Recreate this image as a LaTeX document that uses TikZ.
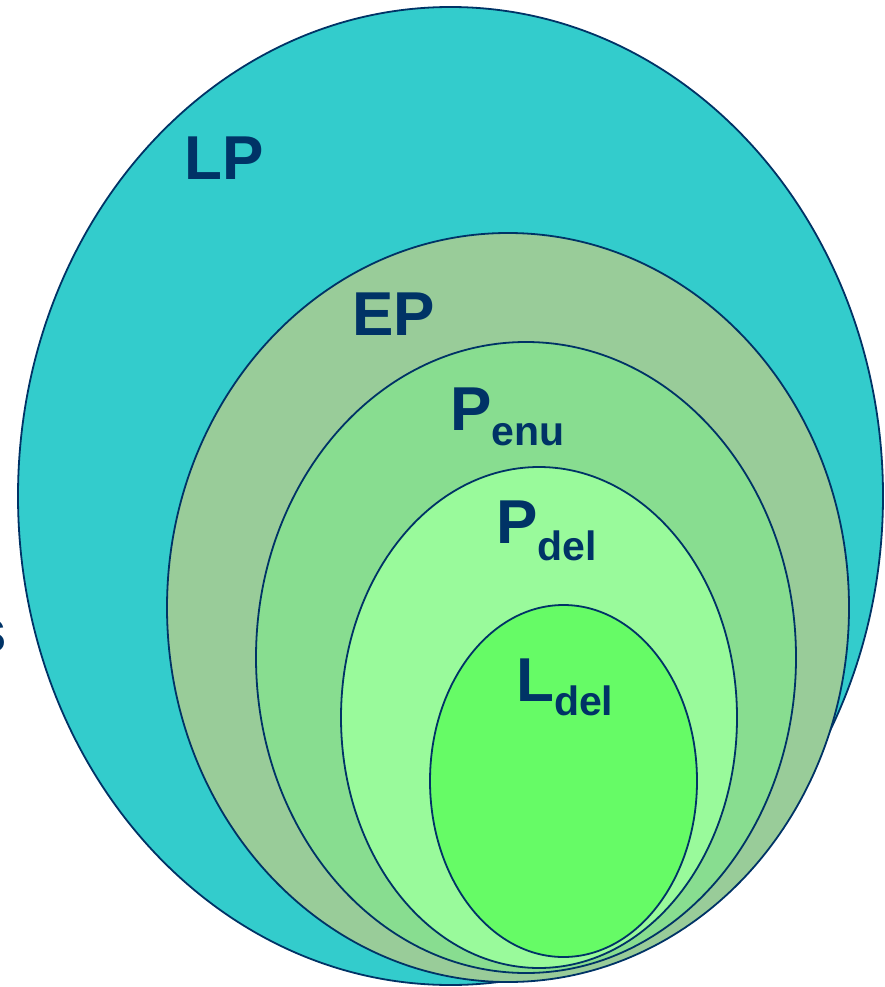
\documentclass[tikz,border=0pt]{standalone}
\usepackage{fontspec}
\setmainfont{Liberation Sans}
\definecolor{navy}{HTML}{003366}
\definecolor{lpc}{HTML}{33CCCC}
\definecolor{epc}{HTML}{99CC99}
\definecolor{enuc}{HTML}{88DD90}
\definecolor{pdelc}{HTML}{99FA9B}
\definecolor{ldelc}{HTML}{66FB66}
\begin{document}
\begin{tikzpicture}[x=1pt,y=-1pt,
  ring/.style={draw=navy, line width=1.8pt},
  lab/.style={anchor=base west, inner sep=0pt, text=navy, font=\fontsize{62}{70}\selectfont\bfseries},
]
\useasboundingbox (0,0) rectangle (885,987);
\clip (0,0) rectangle (885,987);
\path[ring, fill=lpc]   (450.5,496) ellipse [x radius=432.5pt, y radius=489pt];
\path[ring, fill=epc]   (508,607.5) ellipse [x radius=341pt, y radius=374.5pt];
\path[ring, fill=enuc]  (526,657.5) ellipse [x radius=270pt, y radius=315.5pt];
\path[ring, fill=pdelc] (539,717.5) ellipse [x radius=198pt, y radius=250.5pt];
\path[ring, fill=ldelc] (563.5,781) ellipse [x radius=133.5pt, y radius=176pt];
\node[lab] (lp) at (184,180) {LP};
\node[lab] (ep) at (352,335) {EP};
\node[lab] (penu) at (450,430) {P\raisebox{-15pt}{\fontsize{41}{48}\selectfont enu}};
\node[lab] (pdel) at (496,543) {P\raisebox{-17pt}{\fontsize{41}{48}\selectfont del}};
\node[lab] (ldel) at (516,701) {L\raisebox{-14pt}{\fontsize{41}{48}\selectfont del}};
\node[lab, anchor=base east] (s) at (7,652) {s};
\end{tikzpicture}
\end{document}
